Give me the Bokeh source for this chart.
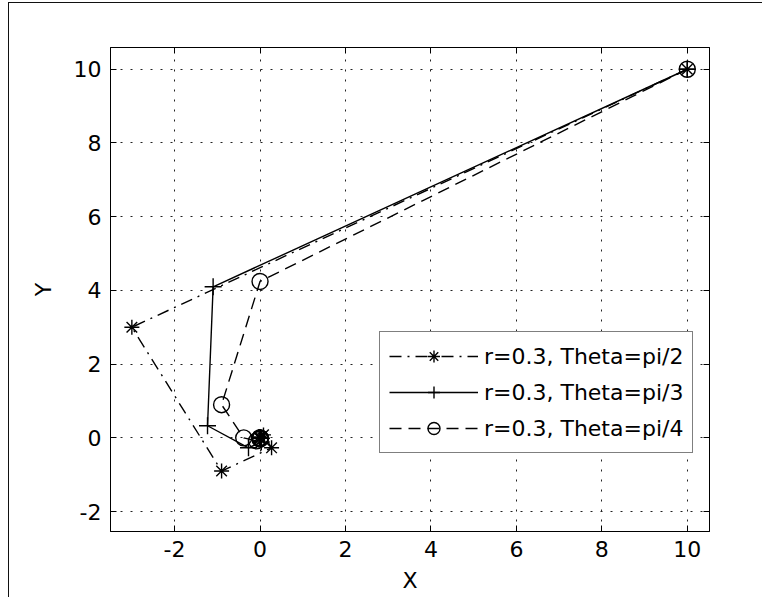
from bokeh.plotting import figure
from bokeh.models import Range1d, LinearAxis, FixedTicker, Legend, LegendItem
from bokeh.embed import file_html
from bokeh.resources import INLINE

# data (iterates of the three spirals)
x_half = [10, -3, -0.9, 0.27, 0.081, -0.0243, -0.0073, 0.0022, 0.00066]
y_half = [10, 3, -0.9, -0.27, 0.081, 0.0243, -0.0073, -0.0022, 0.00066]
x_third = [10, -1.098, -1.229, -0.270, 0.030, 0.033, 0.0073, -0.0011, -0.0017]
y_third = [10, 4.098, 0.329, -0.270, -0.111, -0.0089, 0.0073, 0.0030, 0.0002]
x_quarter = [10, 0.0, -0.9, -0.382, -0.081, 0.0, 0.0073, 0.0031, 0.0]
y_quarter = [10, 4.243, 0.9, 0.0, -0.081, -0.0344, -0.0073, 0.0, 0.0009]
labels = ["r=0.3, Theta=pi/2", "r=0.3, Theta=pi/3", "r=0.3, Theta=pi/4"]
ticks_x = [-2, 0, 2, 4, 6, 8, 10]
ticks_y = [-2, 0, 2, 4, 6, 8, 10]

FONT = "DejaVu Sans"
FS = "22px"

p = figure(frame_width=599, frame_height=484,
           x_range=Range1d(-3.5, 10.52), y_range=Range1d(-2.54, 10.59),
           output_backend="svg", toolbar_location=None,
           min_border_left=101, min_border_top=44, min_border_right=53, min_border_bottom=66,
           background_fill_color="white", border_fill_color="white",
           styles={"margin-left": "8px", "margin-top": "2px",
                   "border-left": "1px solid #111111", "border-top": "1px solid #111111"})
p.outline_line_color = "black"
p.outline_line_width = 1

for ax in (p.xaxis[0], p.yaxis[0]):
    ax.major_tick_in = 6
    ax.major_tick_out = 0
    ax.minor_tick_line_color = None
    ax.axis_line_color = "black"
    ax.major_label_text_font = FONT
    ax.major_label_text_font_size = FS
    ax.major_label_text_color = "black"
    ax.axis_label_text_font = FONT
    ax.axis_label_text_font_size = FS
    ax.axis_label_text_font_style = "normal"
    ax.axis_label_text_color = "black"
p.xaxis[0].ticker = FixedTicker(ticks=ticks_x)
p.yaxis[0].ticker = FixedTicker(ticks=ticks_y)
p.xaxis[0].major_label_overrides = {t: str(t) for t in ticks_x}
p.yaxis[0].major_label_overrides = {t: str(t) for t in ticks_y}
p.xaxis[0].axis_label = "X"
p.yaxis[0].axis_label = "Y"
p.xaxis[0].major_label_standoff = 9
p.yaxis[0].major_label_standoff = 9
p.xaxis[0].axis_label_standoff = 8
p.yaxis[0].axis_label_standoff = 15

top = LinearAxis(ticker=FixedTicker(ticks=ticks_x), major_tick_in=6, major_tick_out=0,
                 minor_tick_line_color=None, major_label_text_color=None,
                 major_label_text_font_size="1px")
right = LinearAxis(ticker=FixedTicker(ticks=ticks_y), major_tick_in=6, major_tick_out=0,
                   minor_tick_line_color=None, major_label_text_color=None,
                   major_label_text_font_size="1px")
p.add_layout(top, "above")
p.add_layout(right, "right")

for g in (p.xgrid[0], p.ygrid[0]):
    g.ticker = FixedTicker(ticks=ticks_x if g is p.xgrid[0] else ticks_y)
    g.grid_line_color = "#222222"
    g.grid_line_dash = "2 8"
    g.grid_line_width = 1

lw = 1.4
l1 = p.line(x_half, y_half, line_color="black", line_width=lw, line_dash="12 6 2 6")
m1 = p.scatter(x_half, y_half, marker="asterisk", size=15, line_color="black", line_width=lw)
l2 = p.line(x_third, y_third, line_color="black", line_width=lw)
m2 = p.scatter(x_third, y_third, marker="cross", size=17, line_color="black", line_width=lw)
l3 = p.line(x_quarter, y_quarter, line_color="black", line_width=lw, line_dash="12 7")
m3 = p.scatter(x_quarter, y_quarter, marker="circle", size=16, line_color="black",
               fill_color=None, line_width=lw)

legend = Legend(items=[LegendItem(label=labels[0], renderers=[l1, m1]),
                       LegendItem(label=labels[1], renderers=[l2, m2]),
                       LegendItem(label=labels[2], renderers=[l3, m3])],
                location=(269, 78), orientation="vertical",
                label_text_font=FONT, label_text_font_size=FS, label_text_color="black",
                glyph_width=89, glyph_height=30, label_height=30, label_standoff=6,
                spacing=6, padding=9, margin=0,
                border_line_color="black", border_line_width=1,
                background_fill_color="white", background_fill_alpha=1.0)
p.add_layout(legend, "center")

open("out.html", "w").write(file_html(p, INLINE))
